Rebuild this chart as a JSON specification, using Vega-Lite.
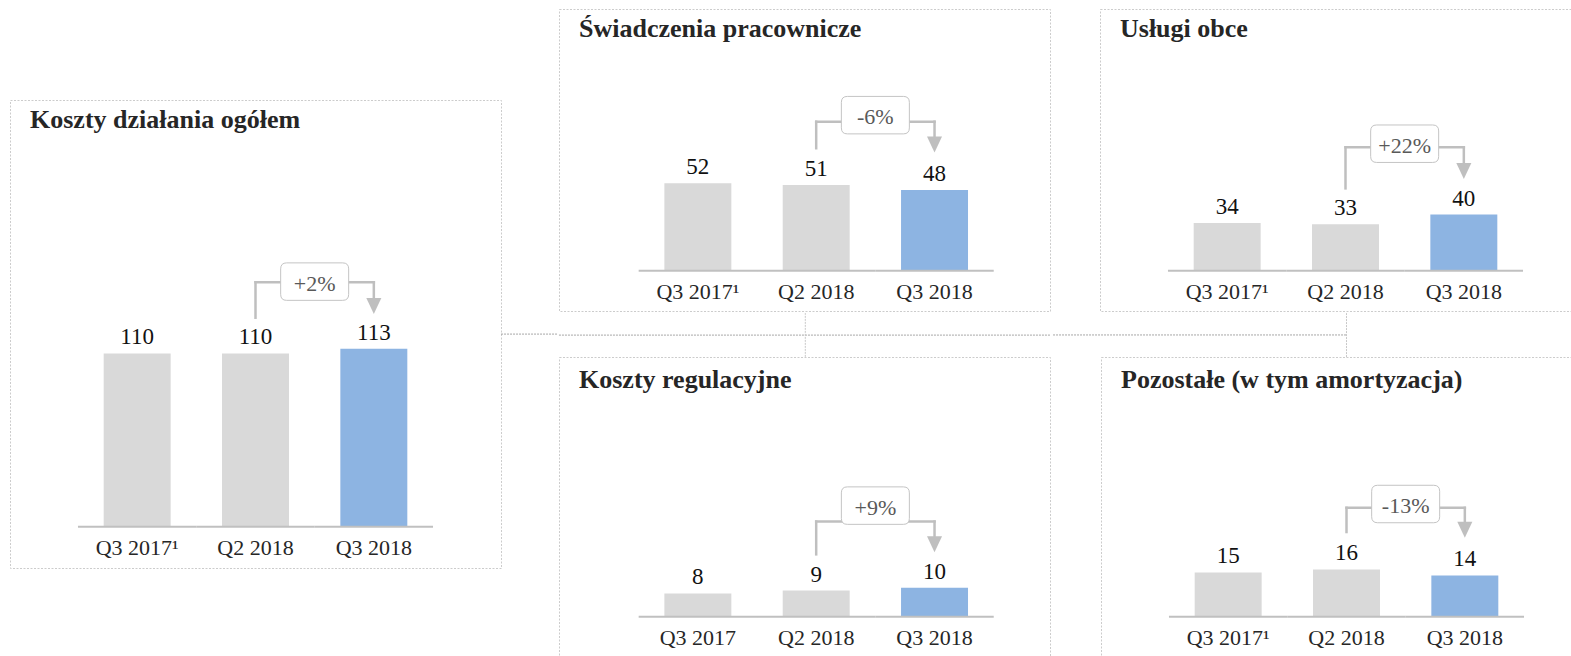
{
  "$schema": "https://vega.github.io/schema/vega-lite/v6.json",
  "padding": {"left": 9, "top": 8, "right": 0, "bottom": 0},
  "background": "white",
  "datasets": {
    "costs": [
      {"panel": "p1", "cat": "Q3 2017¹", "value": 110},
      {"panel": "p1", "cat": "Q2 2018", "value": 110},
      {"panel": "p1", "cat": "Q3 2018", "value": 113, "change": "+2%"},
      {"panel": "p2", "cat": "Q3 2017¹", "value": 52},
      {"panel": "p2", "cat": "Q2 2018", "value": 51},
      {"panel": "p2", "cat": "Q3 2018", "value": 48, "change": "-6%"},
      {"panel": "p3", "cat": "Q3 2017¹", "value": 34},
      {"panel": "p3", "cat": "Q2 2018", "value": 33},
      {"panel": "p3", "cat": "Q3 2018", "value": 40, "change": "+22%"},
      {"panel": "p4", "cat": "Q3 2017", "value": 8},
      {"panel": "p4", "cat": "Q2 2018", "value": 9},
      {"panel": "p4", "cat": "Q3 2018", "value": 10, "change": "+9%"},
      {"panel": "p5", "cat": "Q3 2017¹", "value": 15},
      {"panel": "p5", "cat": "Q2 2018", "value": 16},
      {"panel": "p5", "cat": "Q3 2018", "value": 14, "change": "-13%"}
    ]
  },
  "spacing": -3,
  "hconcat": [
    {
      "spacing": 10,
      "vconcat": [
        {"width": 491, "height": 80, "data": {"values": []}, "mark": "point", "view": {"stroke": null}},
        {
          "width": 491, "height": 468,
          "title": {"text": "Koszty działania ogółem"},
          "data": {"name": "costs"},
          "transform": [{"filter": "datum.panel === 'p1'"}],
          "encoding": {
            "x": {"field": "cat", "type": "nominal", "scale": {"domain": ["Q3 2017¹", "Q2 2018", "Q3 2018"], "paddingInner": 0, "paddingOuter": 0.5747, "align": 0.5}, "axis": {"offset": -41.3, "title": null}},
            "y": {"field": "value", "type": "quantitative", "scale": {"domain": [-26.2, 270.9], "nice": false}, "axis": null}
          },
          "layer": [
            {"mark": {"type": "bar", "width": {"band": 0.566}}, "encoding": {"y2": {"datum": 0}, "color": {"condition": {"test": "datum.cat === 'Q3 2018'", "value": "#8db4e2"}, "value": "#d9d9d9"}}},
            {"mark": {"type": "tick", "orient": "horizontal", "size": 118.4, "thickness": 2, "color": "#c0c0c0", "opacity": 1}, "encoding": {"y": {"datum": 0}}},
            {"mark": {"type": "text", "dy": -9, "baseline": "alphabetic", "fontSize": 23, "color": "#111111"}, "encoding": {"text": {"field": "value", "type": "quantitative"}}},
            {
              "transform": [{"filter": "datum.cat === 'Q3 2018'"}],
              "layer": [
                {"mark": {"type": "rule", "color": "#a6a6a6", "strokeWidth": 1, "strokeDash": [2, 1]}, "encoding": {"x": {"datum": "Q3 2018", "bandPosition": 1.575}, "x2": {"datum": "Q3 2018", "bandPosition": 2.056}, "y": {"datum": 122.3}}},
                {"mark": {"type": "rule", "color": "#bfbfbf", "strokeWidth": 2.5, "strokeCap": "square"}, "encoding": {"x": {"datum": "Q2 2018", "bandPosition": 0.5}, "y": {"datum": 132.7}, "y2": {"datum": 155.2}}},
                {"mark": {"type": "rule", "color": "#bfbfbf", "strokeWidth": 2.5, "strokeCap": "square"}, "encoding": {"x": {"datum": "Q2 2018", "bandPosition": 0.5}, "x2": {"datum": "Q3 2018", "bandPosition": 0.5}, "y": {"datum": 155.2}}},
                {"mark": {"type": "rule", "color": "#bfbfbf", "strokeWidth": 2.5, "strokeCap": "square"}, "encoding": {"x": {"datum": "Q3 2018", "bandPosition": 0.5}, "y": {"datum": 155.2}, "y2": {"datum": 140.2}}},
                {"mark": {"type": "point", "shape": "M-0.824,-0.551H0.824Q1,-0.551 1,-0.375V0.375Q1,0.551 0.824,0.551H-0.824Q-1,0.551 -1,0.375V-0.375Q-1,-0.551 -0.824,-0.551Z", "size": 4624, "filled": true, "fill": "white", "stroke": "#c4c4c4", "strokeWidth": 1, "opacity": 1}, "encoding": {"x": {"datum": "Q2 2018", "bandPosition": 1}, "y": {"datum": 155.6}}},
                {"mark": {"type": "text", "fontSize": 22, "color": "#595959", "baseline": "middle", "dy": 2}, "encoding": {"x": {"datum": "Q2 2018", "bandPosition": 1}, "y": {"datum": 155.6}, "text": {"field": "change"}}},
                {"mark": {"type": "point", "shape": "M-0.94,-1L0.94,-1L0,1Z", "size": 256, "filled": true, "color": "#bfbfbf", "opacity": 1}, "encoding": {"x": {"datum": "Q3 2018", "bandPosition": 0.5}, "y": {"datum": 140.2}}}
              ]
            }
          ]
        }
      ]
    },
    {
      "spacing": 0,
      "vconcat": [
        {
          "spacing": 48,
          "hconcat": [
            {
              "width": 491, "height": 302,
              "title": {"text": "Świadczenia pracownicze"},
              "data": {"name": "costs"},
              "transform": [{"filter": "datum.panel === 'p2'"}],
              "encoding": {
                "x": {"field": "cat", "type": "nominal", "scale": {"domain": ["Q3 2017¹", "Q2 2018", "Q3 2018"], "paddingInner": 0, "paddingOuter": 0.5747, "align": 0.586}, "axis": {"offset": -40.3, "title": null}},
                "y": {"field": "value", "type": "quantitative", "scale": {"domain": [-24.0, 155.8], "nice": false}, "axis": null}
              },
              "layer": [
                {"mark": {"type": "bar", "width": {"band": 0.566}}, "encoding": {"y2": {"datum": 0}, "color": {"condition": {"test": "datum.cat === 'Q3 2018'", "value": "#8db4e2"}, "value": "#d9d9d9"}}},
                {"mark": {"type": "tick", "orient": "horizontal", "size": 118.4, "thickness": 2, "color": "#c0c0c0", "opacity": 1}, "encoding": {"y": {"datum": 0}}},
                {"mark": {"type": "text", "dy": -9, "baseline": "alphabetic", "fontSize": 23, "color": "#111111"}, "encoding": {"text": {"field": "value", "type": "quantitative"}}},
                {
                  "transform": [{"filter": "datum.cat === 'Q3 2018'"}],
                  "layer": [
                    {"mark": {"type": "rule", "color": "#bfbfbf", "strokeWidth": 2.5, "strokeCap": "square"}, "encoding": {"x": {"datum": "Q2 2018", "bandPosition": 0.5}, "y": {"datum": 72.9}, "y2": {"datum": 88.7}}},
                    {"mark": {"type": "rule", "color": "#bfbfbf", "strokeWidth": 2.5, "strokeCap": "square"}, "encoding": {"x": {"datum": "Q2 2018", "bandPosition": 0.5}, "x2": {"datum": "Q3 2018", "bandPosition": 0.5}, "y": {"datum": 88.7}}},
                    {"mark": {"type": "rule", "color": "#bfbfbf", "strokeWidth": 2.5, "strokeCap": "square"}, "encoding": {"x": {"datum": "Q3 2018", "bandPosition": 0.5}, "y": {"datum": 88.7}, "y2": {"datum": 75.2}}},
                    {"mark": {"type": "point", "shape": "M-0.824,-0.551H0.824Q1,-0.551 1,-0.375V0.375Q1,0.551 0.824,0.551H-0.824Q-1,0.551 -1,0.375V-0.375Q-1,-0.551 -0.824,-0.551Z", "size": 4624, "filled": true, "fill": "white", "stroke": "#c4c4c4", "strokeWidth": 1, "opacity": 1}, "encoding": {"x": {"datum": "Q2 2018", "bandPosition": 1}, "y": {"datum": 92.6}}},
                    {"mark": {"type": "text", "fontSize": 22, "color": "#595959", "baseline": "middle", "dy": 2}, "encoding": {"x": {"datum": "Q2 2018", "bandPosition": 1}, "y": {"datum": 92.6}, "text": {"field": "change"}}},
                    {"mark": {"type": "point", "shape": "M-0.94,-1L0.94,-1L0,1Z", "size": 256, "filled": true, "color": "#bfbfbf", "opacity": 1}, "encoding": {"x": {"datum": "Q3 2018", "bandPosition": 0.5}, "y": {"datum": 75.2}}}
                  ]
                }
              ]
            },
            {
              "width": 491, "height": 302,
              "title": {"text": "Usługi obce"},
              "data": {"name": "costs"},
              "transform": [{"filter": "datum.panel === 'p3'"}],
              "encoding": {
                "x": {"field": "cat", "type": "nominal", "scale": {"domain": ["Q3 2017¹", "Q2 2018", "Q3 2018"], "paddingInner": 0, "paddingOuter": 0.5747, "align": 0.5}, "axis": {"offset": -40.3, "title": null}},
                "y": {"field": "value", "type": "quantitative", "scale": {"domain": [-28.7, 186.3], "nice": false}, "axis": null}
              },
              "layer": [
                {"mark": {"type": "bar", "width": {"band": 0.566}}, "encoding": {"y2": {"datum": 0}, "color": {"condition": {"test": "datum.cat === 'Q3 2018'", "value": "#8db4e2"}, "value": "#d9d9d9"}}},
                {"mark": {"type": "tick", "orient": "horizontal", "size": 118.4, "thickness": 2, "color": "#c0c0c0", "opacity": 1}, "encoding": {"y": {"datum": 0}}},
                {"mark": {"type": "text", "dy": -9, "baseline": "alphabetic", "fontSize": 23, "color": "#111111"}, "encoding": {"text": {"field": "value", "type": "quantitative"}}},
                {
                  "transform": [{"filter": "datum.cat === 'Q3 2018'"}],
                  "layer": [
                    {"mark": {"type": "rule", "color": "#bfbfbf", "strokeWidth": 2.5, "strokeCap": "square"}, "encoding": {"x": {"datum": "Q2 2018", "bandPosition": 0.5}, "y": {"datum": 58.6}, "y2": {"datum": 87.8}}},
                    {"mark": {"type": "rule", "color": "#bfbfbf", "strokeWidth": 2.5, "strokeCap": "square"}, "encoding": {"x": {"datum": "Q2 2018", "bandPosition": 0.5}, "x2": {"datum": "Q3 2018", "bandPosition": 0.5}, "y": {"datum": 87.8}}},
                    {"mark": {"type": "rule", "color": "#bfbfbf", "strokeWidth": 2.5, "strokeCap": "square"}, "encoding": {"x": {"datum": "Q3 2018", "bandPosition": 0.5}, "y": {"datum": 87.8}, "y2": {"datum": 71.0}}},
                    {"mark": {"type": "point", "shape": "M-0.824,-0.551H0.824Q1,-0.551 1,-0.375V0.375Q1,0.551 0.824,0.551H-0.824Q-1,0.551 -1,0.375V-0.375Q-1,-0.551 -0.824,-0.551Z", "size": 4624, "filled": true, "fill": "white", "stroke": "#c4c4c4", "strokeWidth": 1, "opacity": 1}, "encoding": {"x": {"datum": "Q2 2018", "bandPosition": 1}, "y": {"datum": 90.4}}},
                    {"mark": {"type": "text", "fontSize": 22, "color": "#595959", "baseline": "middle", "dy": 2}, "encoding": {"x": {"datum": "Q2 2018", "bandPosition": 1}, "y": {"datum": 90.4}, "text": {"field": "change"}}},
                    {"mark": {"type": "point", "shape": "M-0.94,-1L0.94,-1L0,1Z", "size": 256, "filled": true, "color": "#bfbfbf", "opacity": 1}, "encoding": {"x": {"datum": "Q3 2018", "bandPosition": 0.5}, "y": {"datum": 71.0}}}
                  ]
                }
              ]
            }
          ]
        },
        {
          "spacing": 0,
          "hconcat": [
            {
              "width": 491, "height": 302,
              "title": {"text": "Koszty regulacyjne", "offset": -80},
              "data": {"name": "costs"},
              "transform": [{"filter": "datum.panel === 'p4'"}],
              "encoding": {
                "x": {"field": "cat", "type": "nominal", "scale": {"domain": ["Q3 2017", "Q2 2018", "Q3 2018"], "paddingInner": 0, "paddingOuter": 0.5747, "align": 0.586}, "axis": {"offset": -42.3, "title": null}},
                "y": {"field": "value", "type": "quantitative", "scale": {"domain": [-14.59, 89.55], "nice": false}, "axis": null}
              },
              "layer": [
                {"mark": {"type": "bar", "width": {"band": 0.566}}, "encoding": {"y2": {"datum": 0}, "color": {"condition": {"test": "datum.cat === 'Q3 2018'", "value": "#8db4e2"}, "value": "#d9d9d9"}}},
                {"mark": {"type": "tick", "orient": "horizontal", "size": 118.4, "thickness": 2, "color": "#c0c0c0", "opacity": 1}, "encoding": {"y": {"datum": 0}}},
                {"mark": {"type": "text", "dy": -9, "baseline": "alphabetic", "fontSize": 23, "color": "#111111"}, "encoding": {"text": {"field": "value", "type": "quantitative"}}},
                {
                  "transform": [{"filter": "datum.cat === 'Q3 2018'"}],
                  "layer": [
                    {"mark": {"type": "rule", "color": "#a6a6a6", "strokeWidth": 1, "strokeDash": [2, 1]}, "encoding": {"x": {"datum": "Q3 2017", "bandPosition": -0.674}, "x2": {"datum": "Q3 2018", "bandPosition": 1.476}, "y": {"datum": 97.1}}},
                    {"mark": {"type": "rule", "color": "#c8c8c8", "strokeWidth": 1, "strokeDash": [2, 1]}, "encoding": {"x": {"datum": "Q2 2018", "bandPosition": 0.408}, "y": {"datum": 89.6}, "y2": {"datum": 104.7}}},
                    {"mark": {"type": "rule", "color": "#bfbfbf", "strokeWidth": 2.5, "strokeCap": "square"}, "encoding": {"x": {"datum": "Q2 2018", "bandPosition": 0.5}, "y": {"datum": 21.5}, "y2": {"datum": 32.8}}},
                    {"mark": {"type": "rule", "color": "#bfbfbf", "strokeWidth": 2.5, "strokeCap": "square"}, "encoding": {"x": {"datum": "Q2 2018", "bandPosition": 0.5}, "x2": {"datum": "Q3 2018", "bandPosition": 0.5}, "y": {"datum": 32.8}}},
                    {"mark": {"type": "rule", "color": "#bfbfbf", "strokeWidth": 2.5, "strokeCap": "square"}, "encoding": {"x": {"datum": "Q3 2018", "bandPosition": 0.5}, "y": {"datum": 32.8}, "y2": {"datum": 25.0}}},
                    {"mark": {"type": "point", "shape": "M-0.824,-0.551H0.824Q1,-0.551 1,-0.375V0.375Q1,0.551 0.824,0.551H-0.824Q-1,0.551 -1,0.375V-0.375Q-1,-0.551 -0.824,-0.551Z", "size": 4624, "filled": true, "fill": "white", "stroke": "#c4c4c4", "strokeWidth": 1, "opacity": 1}, "encoding": {"x": {"datum": "Q2 2018", "bandPosition": 1}, "y": {"datum": 38.3}}},
                    {"mark": {"type": "text", "fontSize": 22, "color": "#595959", "baseline": "middle", "dy": 2}, "encoding": {"x": {"datum": "Q2 2018", "bandPosition": 1}, "y": {"datum": 38.3}, "text": {"field": "change"}}},
                    {"mark": {"type": "point", "shape": "M-0.94,-1L0.94,-1L0,1Z", "size": 256, "filled": true, "color": "#bfbfbf", "opacity": 1}, "encoding": {"x": {"datum": "Q3 2018", "bandPosition": 0.5}, "y": {"datum": 25.0}}}
                  ]
                }
              ]
            },
            {
              "width": 491, "height": 302,
              "title": {"text": "Pozostałe (w tym amortyzacja)", "offset": -80},
              "data": {"name": "costs"},
              "transform": [{"filter": "datum.panel === 'p5'"}],
              "encoding": {
                "x": {"field": "cat", "type": "nominal", "scale": {"domain": ["Q3 2017¹", "Q2 2018", "Q3 2018"], "paddingInner": 0, "paddingOuter": 0.5747, "align": 0.5}, "axis": {"offset": -42.3, "title": null}},
                "y": {"field": "value", "type": "quantitative", "scale": {"domain": [-14.34, 88.03], "nice": false}, "axis": null}
              },
              "layer": [
                {"mark": {"type": "bar", "width": {"band": 0.566}}, "encoding": {"y2": {"datum": 0}, "color": {"condition": {"test": "datum.cat === 'Q3 2018'", "value": "#8db4e2"}, "value": "#d9d9d9"}}},
                {"mark": {"type": "tick", "orient": "horizontal", "size": 118.4, "thickness": 2, "color": "#c0c0c0", "opacity": 1}, "encoding": {"y": {"datum": 0}}},
                {"mark": {"type": "text", "dy": -9, "baseline": "alphabetic", "fontSize": 23, "color": "#111111"}, "encoding": {"text": {"field": "value", "type": "quantitative"}}},
                {
                  "transform": [{"filter": "datum.cat === 'Q3 2018'"}],
                  "layer": [
                    {"mark": {"type": "rule", "color": "#a6a6a6", "strokeWidth": 1, "strokeDash": [2, 1]}, "encoding": {"x": {"datum": "Q3 2017¹", "bandPosition": -0.98}, "x2": {"datum": "Q2 2018", "bandPosition": 0.5}, "y": {"datum": 95.5}}},
                    {"mark": {"type": "rule", "color": "#c8c8c8", "strokeWidth": 1, "strokeDash": [2, 1]}, "encoding": {"x": {"datum": "Q2 2018", "bandPosition": 0.5}, "y": {"datum": 88.0}, "y2": {"datum": 102.9}}},
                    {"mark": {"type": "rule", "color": "#bfbfbf", "strokeWidth": 2.5, "strokeCap": "square"}, "encoding": {"x": {"datum": "Q2 2018", "bandPosition": 0.5}, "y": {"datum": 28.7}, "y2": {"datum": 36.9}}},
                    {"mark": {"type": "rule", "color": "#bfbfbf", "strokeWidth": 2.5, "strokeCap": "square"}, "encoding": {"x": {"datum": "Q2 2018", "bandPosition": 0.5}, "x2": {"datum": "Q3 2018", "bandPosition": 0.5}, "y": {"datum": 36.9}}},
                    {"mark": {"type": "rule", "color": "#bfbfbf", "strokeWidth": 2.5, "strokeCap": "square"}, "encoding": {"x": {"datum": "Q3 2018", "bandPosition": 0.5}, "y": {"datum": 36.9}, "y2": {"datum": 29.5}}},
                    {"mark": {"type": "point", "shape": "M-0.824,-0.551H0.824Q1,-0.551 1,-0.375V0.375Q1,0.551 0.824,0.551H-0.824Q-1,0.551 -1,0.375V-0.375Q-1,-0.551 -0.824,-0.551Z", "size": 4624, "filled": true, "fill": "white", "stroke": "#c4c4c4", "strokeWidth": 1, "opacity": 1}, "encoding": {"x": {"datum": "Q2 2018", "bandPosition": 1}, "y": {"datum": 38.2}}},
                    {"mark": {"type": "text", "fontSize": 22, "color": "#595959", "baseline": "middle", "dy": 2}, "encoding": {"x": {"datum": "Q2 2018", "bandPosition": 1}, "y": {"datum": 38.2}, "text": {"field": "change"}}},
                    {"mark": {"type": "point", "shape": "M-0.94,-1L0.94,-1L0,1Z", "size": 256, "filled": true, "color": "#bfbfbf", "opacity": 1}, "encoding": {"x": {"datum": "Q3 2018", "bandPosition": 0.5}, "y": {"datum": 29.5}}}
                  ]
                }
              ]
            }
          ]
        }
      ]
    }
  ],
  "config": {
    "font": "Liberation Serif",
    "view": {"stroke": "#cccccc", "strokeDash": [2, 1.5], "strokeWidth": 1},
    "title": {"anchor": "start", "frame": "group", "offset": -33, "dx": 20, "baseline": "alphabetic", "font": "Liberation Serif", "fontSize": 26, "fontWeight": "bold", "color": "#262626"},
    "axisX": {"domain": false, "ticks": false, "tickSize": 0, "grid": false, "labelPadding": 28, "labelBaseline": "alphabetic", "labelFont": "Liberation Serif", "labelFontSize": 22, "labelColor": "#262626", "labelAngle": 0},
    "text": {"font": "Liberation Serif"}
  }
}
